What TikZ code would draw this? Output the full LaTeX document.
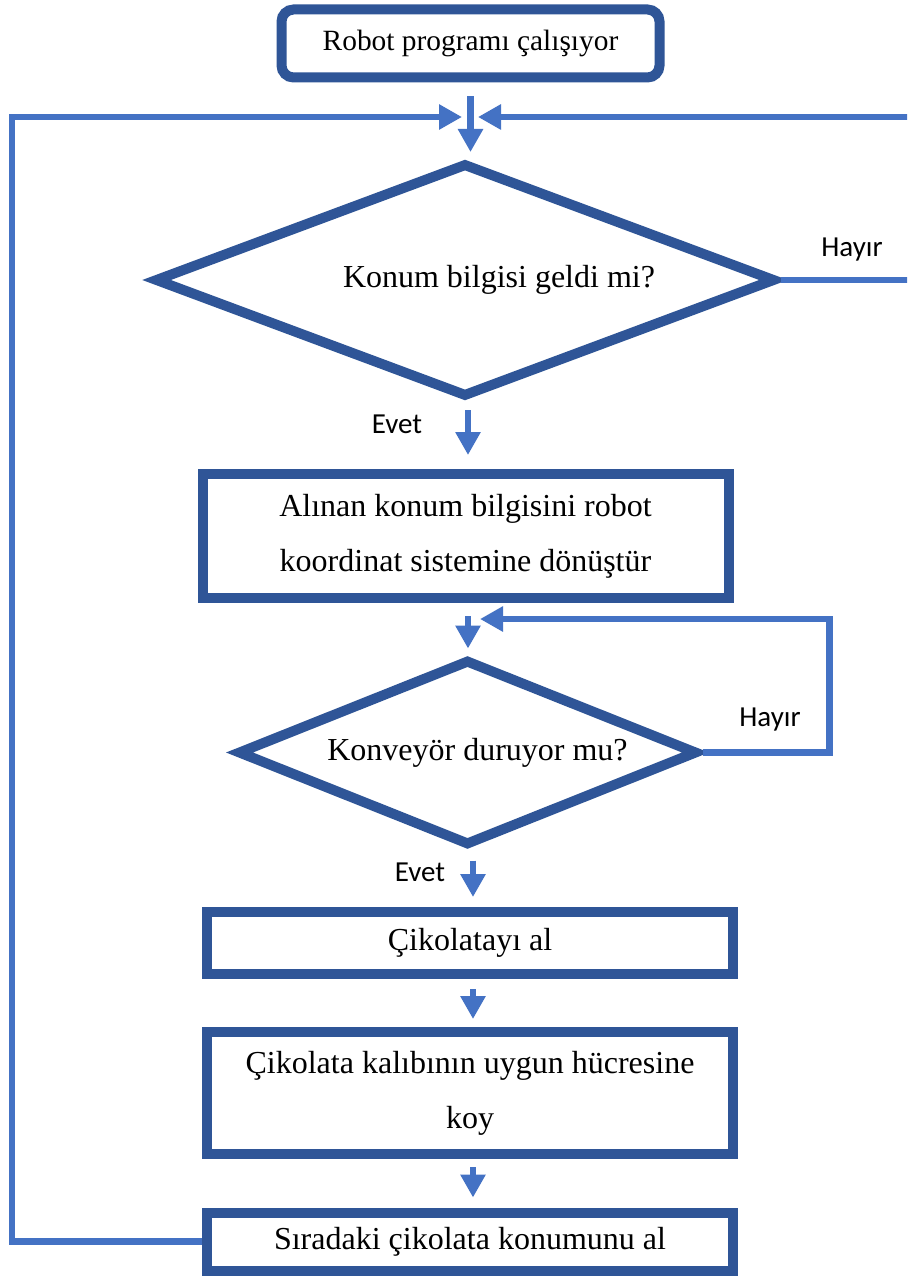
\documentclass[tikz,border=0pt]{standalone}
\usepackage{fontspec}
\setmainfont{Liberation Serif}
\newfontfamily\calibri{Carlito}
\usetikzlibrary{arrows.meta, calc, positioning, shapes.geometric}
\definecolor{koyu}{HTML}{2F5597}
\definecolor{acik}{HTML}{4472C4}
\newcommand{\yazi}{\fontsize{16}{27.5}\selectfont}

\begin{document}
\begin{tikzpicture}[x=0.5pt, y=-0.5pt,
    kutu/.style={draw=koyu, line width=5pt, align=center, inner sep=0pt, font=\yazi},
    karar/.style={diamond, draw=koyu, line width=5pt, inner sep=0pt, font=\yazi},
    ok/.style={draw=acik, line width=3.3pt, -{Triangle[width=12pt, length=11.5pt]}},
    etiket/.style={font=\calibri\fontsize{14.5}{16}\selectfont}]
    \clip (0,0) rectangle (907,1279);
    \fill[white] (0,0) rectangle (907,1279);

    % kutular
    \node[kutu, rounded corners=6pt, minimum width=189pt, minimum height=34pt, font=\fontsize{14.7}{16}\selectfont] (start) at (470.5,43.5) {Robot programı çalışıyor};
    \node[karar, shape aspect=2.65, minimum width=310.5pt, minimum height=117pt] (d1) at (465,280) {\hspace*{34pt}Konum bilgisi geldi mi?};
    \node[kutu, minimum width=263pt, minimum height=62pt] (b2) at (465.5,536) {Alınan konum bilgisini robot\\koordinat sistemine dönüştür};
    \node[karar, shape aspect=2.47, minimum width=230pt, minimum height=93pt] (d2) at (467.5,752.5) {\hspace*{10pt}Konveyör duruyor mu?};
    \node[kutu, minimum width=263pt, minimum height=31pt] (b3) at (470,943) {Çikolatayı al};
    \node[kutu, minimum width=263pt, minimum height=61pt] (b4) at (470,1093) {Çikolata kalıbının uygun hücresine\\koy};
    \node[kutu, minimum width=263pt, minimum height=29pt] (b5) at (470,1241.5) {Sıradaki çikolata konumunu al};

    % etiketler
    \node[etiket] (h1) at (852,250) {Hayır};
    \node[etiket] (h2) at (770,720) {Hayır};
    \node[etiket] (e1) at (397,424) {Evet};
    \node[etiket] (e2) at (420,872) {Evet};

    % birleşme noktaları
    \coordinate (m1) at (470,117);
    \coordinate (m2) at (468,619);

    % oklar
    \draw[ok] ($(start.south)+(0,14)$) -- ($(start.south |- d1.north)+(0,-6)$);
    \draw[ok] (b5.west) -- ++(-190,0) |- ($(m1)+(-8,0)$);
    \draw[ok] (d1.east) -- ++(140,0) |- ($(m1)+(8,0)$);
    \draw[ok] ($(d1.south)+(3,8)$) -- ($(b2.north)+(2.5,-14)$);
    \draw[ok] ($(b2.south)+(2.5,13)$) -- ($(d2.north)+(0.5,-6)$);
    \draw[ok] (d2.east) -- ++(127,0) |- ($(m2)+(12,0)$);
    \draw[ok] ($(d2.south)+(5.5,10)$) -- ($(b3.north)+(3,-10)$);
    \draw[ok] ($(b3.south)+(3,10)$) -- ($(b4.north)+(3,-8)$);
    \draw[ok] ($(b4.south)+(3,8)$) -- ($(b5.north)+(3,-10)$);
\end{tikzpicture}
\end{document}
